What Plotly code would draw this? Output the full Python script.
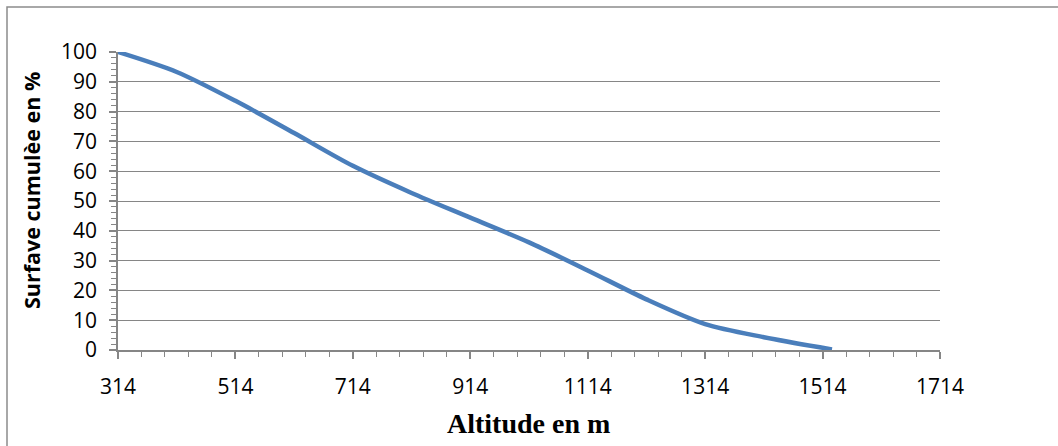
import plotly.graph_objects as go

altitude = [314, 414, 514, 614, 714, 814, 914, 1014, 1114, 1214, 1314, 1414, 1530]
surface = [100, 93.3, 83.6, 72.8, 61.8, 52.7, 44.4, 36.1, 26.7, 17.0, 8.7, 4.3, 0.2]

x_ticks = [314, 514, 714, 914, 1114, 1314, 1514, 1714]
y_ticks = [0, 10, 20, 30, 40, 50, 60, 70, 80, 90, 100]

W, H = 1058, 446
L, R, T, B = 118, 940, 52, 350
pw, ph = R - L, B - T

fig = go.Figure()
fig.add_trace(go.Scatter(
    x=altitude, y=surface, mode="lines",
    line=dict(color="#4A7EBB", width=4.5, shape="spline", smoothing=0.8),
    showlegend=False, hoverinfo="skip",
))

grey = "#868686"
tickfont = dict(family="Open Sans, sans-serif", size=21, color="#000000")

fig.update_xaxes(
    range=[314, 1714], tickmode="array", tickvals=x_ticks, ticktext=[str(v) for v in x_ticks],
    showgrid=False, zeroline=False, showline=True, linecolor=grey, linewidth=1.5,
    ticks="outside", ticklen=7, tickwidth=1.5, tickcolor=grey, tickfont=tickfont,
    ticklabelstandoff=10,
    minor=dict(dtick=40, tick0=314, ticks="outside", ticklen=5, tickwidth=1, tickcolor=grey, showgrid=False),
)
fig.update_yaxes(
    range=[0, 100], tickmode="array", tickvals=y_ticks, ticktext=[str(v) for v in y_ticks],
    showgrid=True, gridcolor=grey, gridwidth=1.3, zeroline=False, showline=True, linecolor=grey, linewidth=1.5,
    ticks="outside", ticklen=7, tickwidth=1.5, tickcolor=grey, tickfont=tickfont,
    ticklabelstandoff=8,
    minor=dict(dtick=2, tick0=0, ticks="outside", ticklen=5, tickwidth=1, tickcolor=grey, showgrid=False),
)

def px(xp):
    return (xp - L) / pw

def py(yp):
    return (B - yp) / ph

fig.add_shape(type="rect", xref="paper", yref="paper",
              x0=px(7), x1=px(1062), y0=py(450), y1=py(7),
              line=dict(color="#8C8C8C", width=1.5), fillcolor="rgba(0,0,0,0)", layer="below")

fig.add_annotation(text="<b>Altitude en m</b>", xref="paper", yref="paper",
                   x=px(528), y=py(423), xanchor="center", yanchor="middle", showarrow=False,
                   font=dict(family="Liberation Serif, serif", size=28, color="#000000"))
fig.add_annotation(text="<b>Surfave cumulèe en %</b>", xref="paper", yref="paper",
                   x=px(31), y=py(191), xanchor="center", yanchor="middle", showarrow=False, textangle=-90,
                   font=dict(family="Open Sans, sans-serif", size=21.5, color="#000000"))

fig.update_layout(
    width=W, height=H,
    margin=dict(l=L, r=W - R, t=T, b=H - B),
    paper_bgcolor="white", plot_bgcolor="white",
)

fig.write_html("out.html", config={"displayModeBar": False},
               post_script="document.body.style.margin='0';")
